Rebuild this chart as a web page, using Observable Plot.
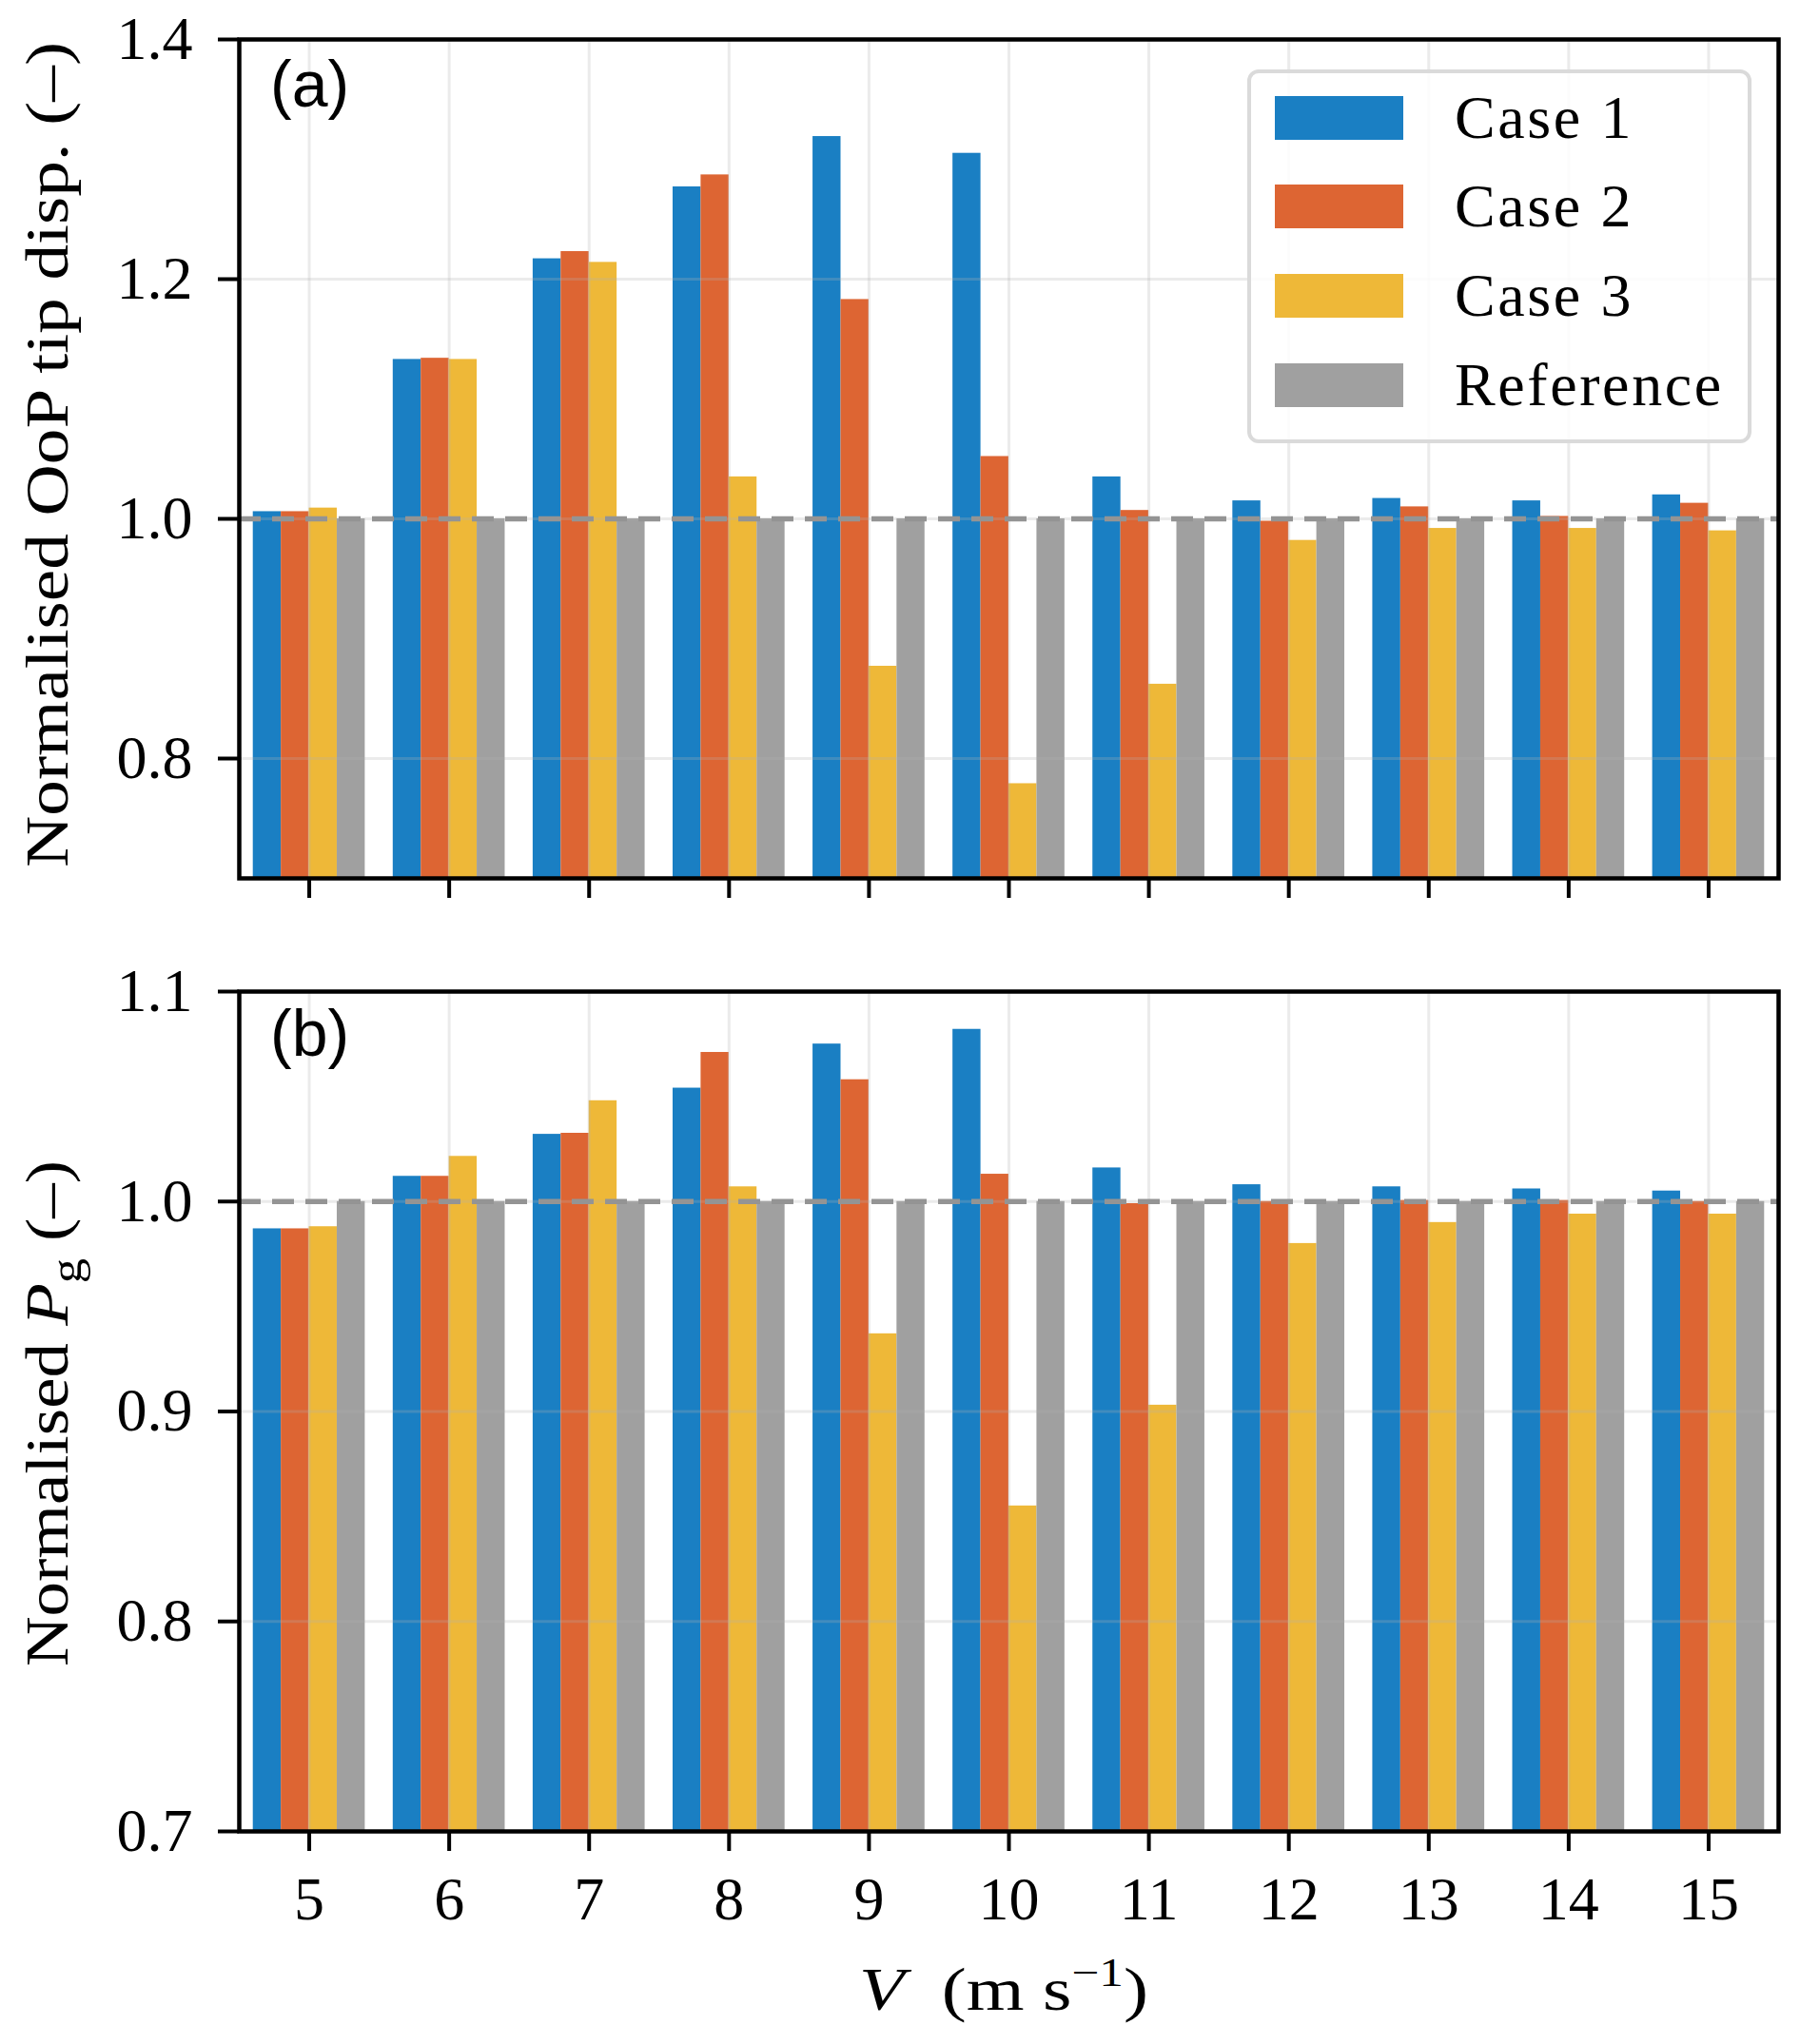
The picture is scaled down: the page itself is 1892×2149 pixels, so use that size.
<!DOCTYPE html>
<html>
<head>
<meta charset="utf-8">
<script src="https://cdn.jsdelivr.net/npm/d3@7"></script>
<script src="https://cdn.jsdelivr.net/npm/@observablehq/plot@0.6"></script>
<style>
  html, body { margin: 0; padding: 0; background: #fff; }
  #wrap { position: relative; width: 1892px; height: 2149px; background: #fff; }
  #wrap svg { display: block; }
  .legend {
    position: absolute; left: 1311px; top: 73px; width: 530px; height: 393px;
    box-sizing: border-box; border: 4px solid #dadada; border-radius: 12px;
    background: rgba(255,255,255,0.85);
    font-family: "Liberation Serif", serif; font-size: 64px; color: #000;
  }
  .legend .sw { position: absolute; left: 25px; width: 135px; height: 46px; }
  .legend .lab { position: absolute; left: 214px; height: 46px; line-height: 46px; white-space: nowrap; letter-spacing: 2.6px; }
</style>
</head>
<body>
<div id="wrap"></div>
<script>
// ---------- data ----------
const speeds = [5, 6, 7, 8, 9, 10, 11, 12, 13, 14, 15];
const cases = ["Case 1", "Case 2", "Case 3", "Reference"];
const caseColors = ["#1a7fc3", "#dd6533", "#eeb838", "#a0a0a0"];

// (a) Normalised out-of-plane tip displacement
const tipCase1 = [1.006, 1.133, 1.217, 1.277, 1.319, 1.305, 1.035, 1.015, 1.017, 1.015, 1.020];
const tipCase2 = [1.006, 1.134, 1.223, 1.287, 1.183, 1.052, 1.007, 0.998, 1.010, 1.002, 1.013];
const tipCase3 = [1.009, 1.133, 1.214, 1.035, 0.877, 0.779, 0.862, 0.982, 0.992, 0.992, 0.990];
const tipRef   = [1.000, 1.000, 1.000, 1.000, 1.000, 1.000, 1.000, 1.000, 1.000, 1.000, 1.000];

// (b) Normalised generator power
const powCase1 = [0.987, 1.012, 1.032, 1.054, 1.075, 1.082, 1.016, 1.008, 1.007, 1.006, 1.005];
const powCase2 = [0.987, 1.012, 1.0325, 1.071, 1.058, 1.013, 0.999, 1.000, 1.0005, 1.0005, 1.000];
const powCase3 = [0.988, 1.0215, 1.048, 1.007, 0.937, 0.855, 0.903, 0.980, 0.990, 0.994, 0.994];
const powRef   = [1.000, 1.000, 1.000, 1.000, 1.000, 1.000, 1.000, 1.000, 1.000, 1.000, 1.000];

const tipTicks = [0.8, 1.0, 1.2, 1.4];
const powTicks = [0.7, 0.8, 0.9, 1.0, 1.1];
const barOffsets = [-0.3, -0.1, 0.1, 0.3];
const barWidth = 0.2;

function rowsOf(series) {
  return speeds.flatMap((v, i) => cases.map((c, j) => ({v, c, j, y: series[j][i]})));
}

const W = 1892;
const serif = "'Liberation Serif', serif";
const sans = "'Liberation Sans', Arial, sans-serif";

function panel({series, yDomain, yTicks, height, marginTop, marginBottom, xLabels}) {
  const rows = rowsOf(series);
  const gridStyle = {stroke: "#b0b0b0", strokeOpacity: 0.26, strokeWidth: 3};
  return Plot.plot({
    width: W, height,
    marginLeft: 251, marginRight: 23, marginTop, marginBottom,
    style: {fontFamily: serif, fontSize: "64px", color: "#000", background: "#fff", overflow: "visible"},
    x: {domain: [4.5, 15.5]},
    y: {domain: yDomain},
    color: {domain: cases, range: caseColors},
    marks: [
      Plot.rect(rows, {
        x1: d => d.v + barOffsets[d.j] - barWidth / 2,
        x2: d => d.v + barOffsets[d.j] + barWidth / 2,
        y1: 0, y2: "y", fill: "c", inset: 0, clip: true
      }),
      Plot.gridX(speeds, gridStyle),
      Plot.gridY(yTicks, gridStyle),
      Plot.ruleY([1], {stroke: "#949494", strokeWidth: 5.5, strokeDasharray: "23,12"}),
      Plot.axisY({ticks: yTicks, tickFormat: d3.format(".1f"), tickSize: 22, tickPadding: 27,
                  strokeWidth: 4, label: null, fontSize: 64}),
      Plot.axisX({ticks: speeds, tickSize: 21, tickPadding: 26, strokeWidth: 4, label: null,
                  fontSize: 64, tickFormat: xLabels ? (d => String(d)) : (() => "")}),
      Plot.frame({stroke: "#000", strokeWidth: 4.5})
    ]
  });
}

const wrap = document.getElementById("wrap");

const plotA = panel({
  series: [tipCase1, tipCase2, tipCase3, tipRef],
  yDomain: [0.7, 1.4], yTicks: tipTicks,
  height: 1000, marginTop: 41, marginBottom: 77, xLabels: false
});
const plotB = panel({
  series: [powCase1, powCase2, powCase3, powRef],
  yDomain: [0.7, 1.1], yTicks: powTicks,
  height: 1149, marginTop: 42, marginBottom: 224, xLabels: true
});
wrap.appendChild(plotA);
wrap.appendChild(plotB);

// ---------- labels ----------
const sa = d3.select(plotA);
sa.append("text")
  .attr("transform", "translate(71,478) rotate(-90)")
  .attr("text-anchor", "middle")
  .attr("textLength", 868).attr("lengthAdjust", "spacingAndGlyphs")
  .style("font-family", serif).style("font-size", "64px")
  .text("Normalised OoP tip disp. (–)");
sa.append("text")
  .attr("x", 284).attr("y", 112)
  .attr("text-anchor", "start")
  .style("font-family", sans).style("font-size", "68px")
  .text("(a)");

const sb = d3.select(plotB);
const yb = sb.append("text")
  .attr("transform", "translate(71,486) rotate(-90)")
  .attr("text-anchor", "middle")
  .attr("textLength", 532).attr("lengthAdjust", "spacingAndGlyphs")
  .style("font-family", serif).style("font-size", "64px");
yb.append("tspan").text("Normalised ");
yb.append("tspan").style("font-style", "italic").text("P");
yb.append("tspan").attr("dy", 14).style("font-size", "46px").text("g");
yb.append("tspan").attr("dy", -14).text(" (–)");

sb.append("text")
  .attr("x", 284).attr("y", 110)
  .attr("text-anchor", "start")
  .style("font-family", sans).style("font-size", "68px")
  .text("(b)");

const xl = sb.append("text")
  .attr("x", 1055).attr("y", 1113)
  .attr("text-anchor", "middle")
  .attr("textLength", 304).attr("lengthAdjust", "spacingAndGlyphs")
  .style("font-family", serif).style("font-size", "64px");
xl.append("tspan").style("font-style", "italic").text("V");
xl.append("tspan").text("\u2002(m s");
xl.append("tspan").attr("dy", -25).style("font-size", "42px").text("−1");
xl.append("tspan").attr("dy", 25).text(")");

// ---------- legend ----------
const legend = document.createElement("div");
legend.className = "legend";
const rowTops = [24, 117, 211, 305];
cases.forEach((c, i) => {
  const sw = document.createElement("div");
  sw.className = "sw";
  sw.style.top = rowTops[i] + "px";
  sw.style.background = caseColors[i];
  legend.appendChild(sw);
  const lab = document.createElement("div");
  lab.className = "lab";
  lab.style.top = rowTops[i] + "px";
  lab.textContent = c;
  legend.appendChild(lab);
});
wrap.appendChild(legend);
</script>
</body>
</html>
